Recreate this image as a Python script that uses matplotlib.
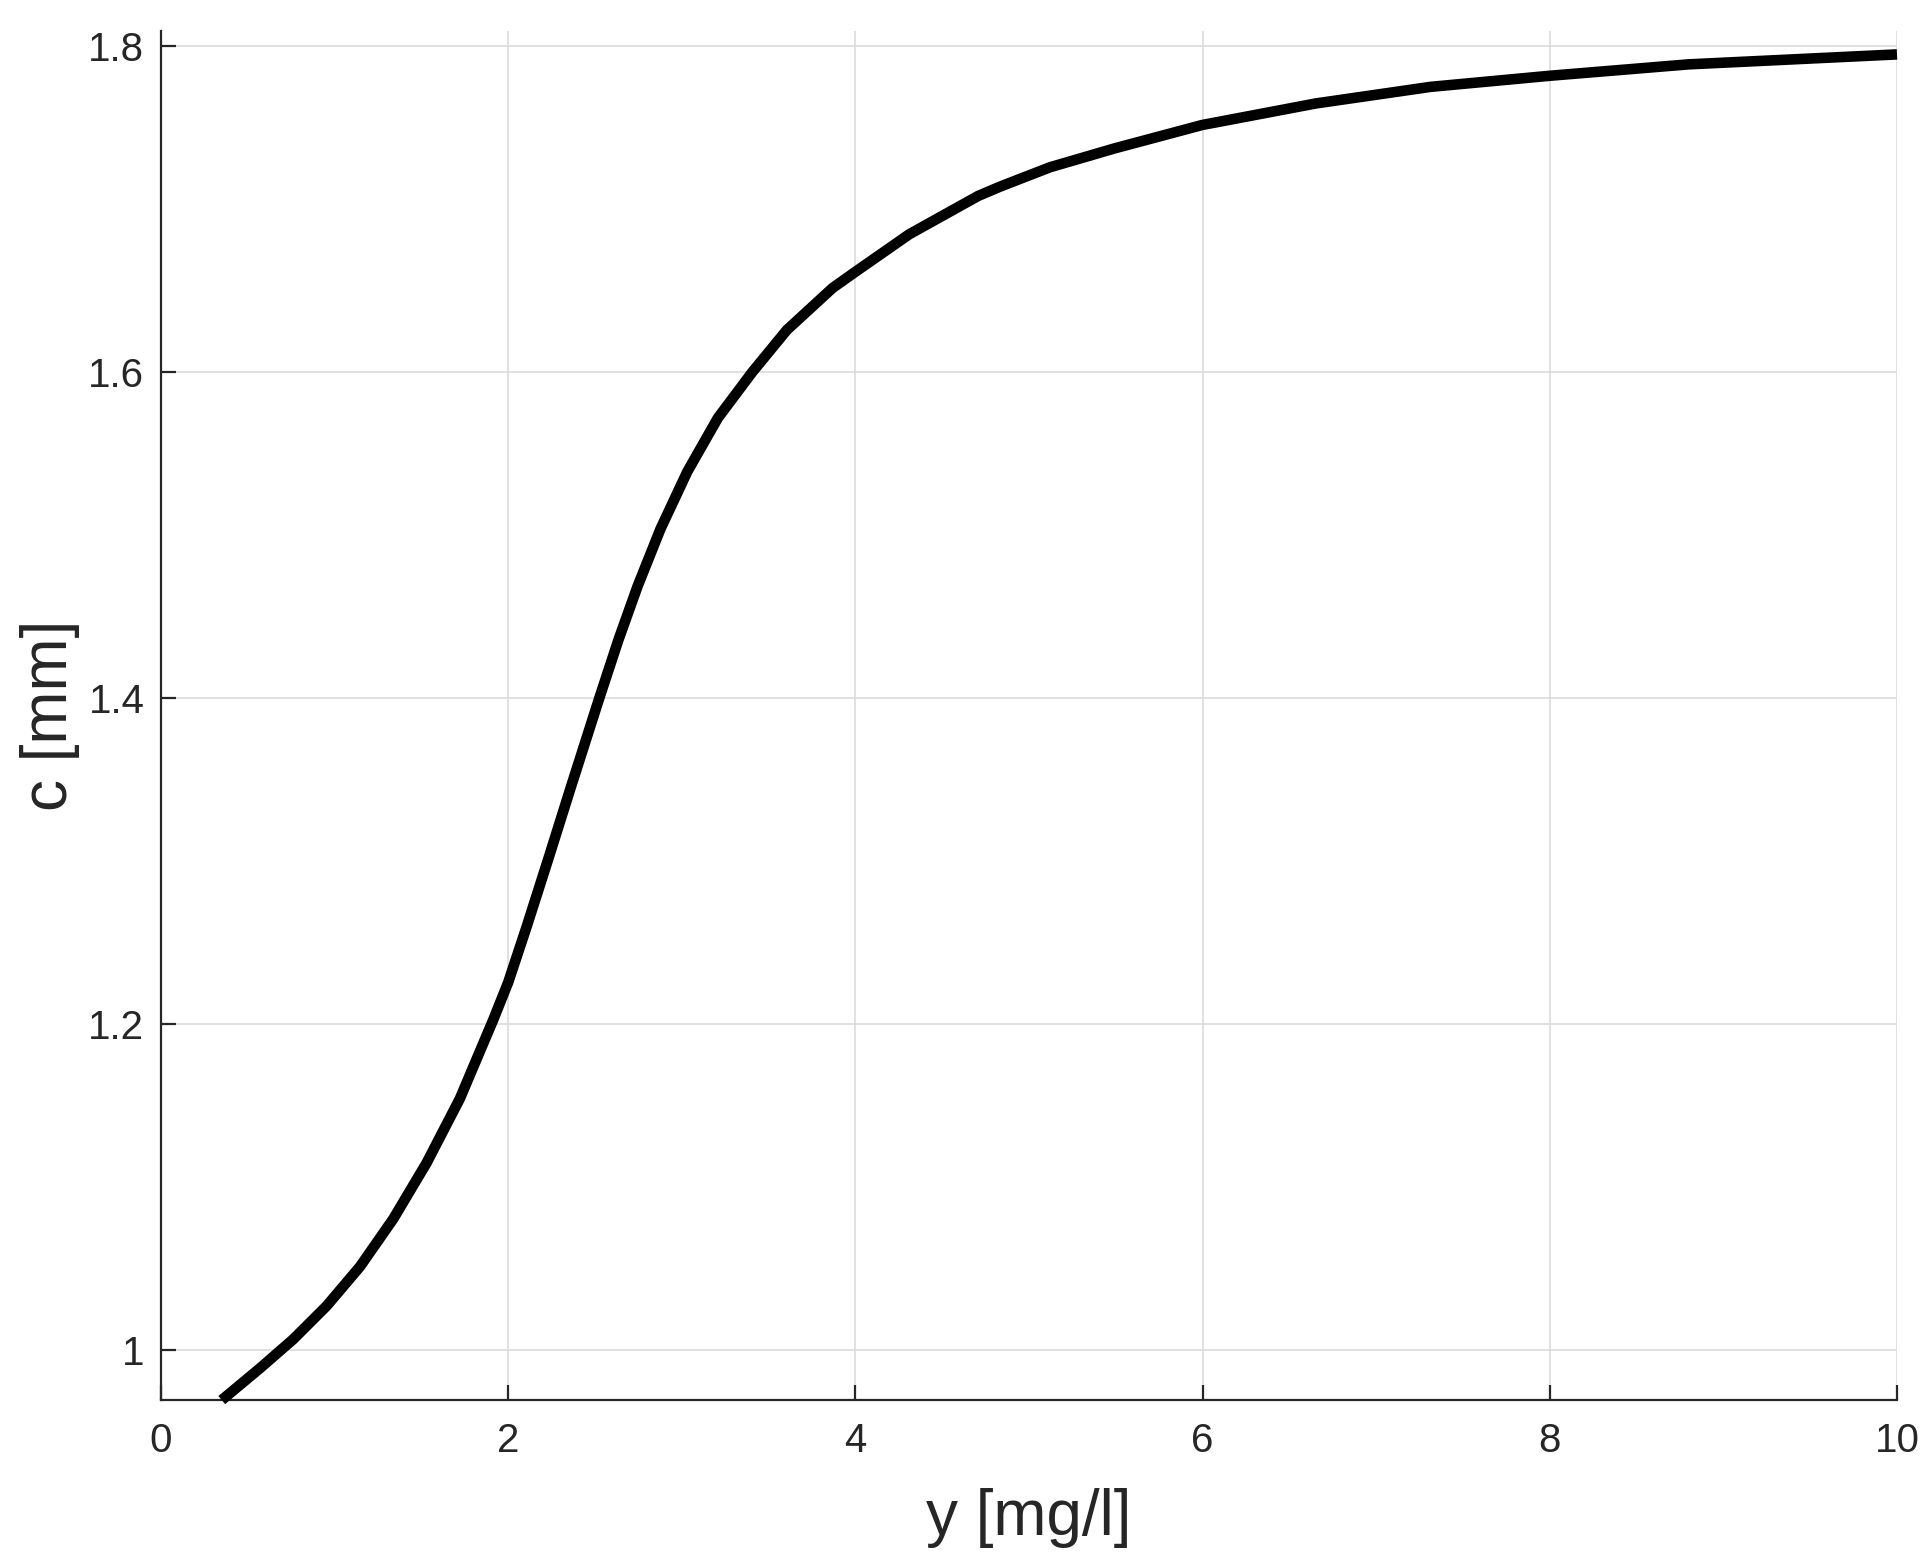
import matplotlib
matplotlib.use("Agg")
import matplotlib.pyplot as plt

# Data
y_conc = [0.35, 0.570, 0.762, 0.954, 1.146, 1.338, 1.530, 1.722, 1.914, 2.0,
          2.107, 2.23, 2.36, 2.441, 2.525, 2.635, 2.745, 2.877, 3.032, 3.208,
          3.406, 3.605, 3.869, 4.0, 4.31, 4.707, 4.833, 5.121, 5.494, 5.997,
          6.651, 7.313, 8.0, 8.80, 10.0]
c_mm = [0.9695, 0.989, 1.0068, 1.0272, 1.0513, 1.0806, 1.1149, 1.1544, 1.2027, 1.2256,
        1.260, 1.301, 1.345, 1.372, 1.400, 1.4356, 1.4684, 1.5036, 1.5388, 1.5717,
        1.5998, 1.6256, 1.6514, 1.6613, 1.6843, 1.7078, 1.7135, 1.7254, 1.737, 1.7513,
        1.7645, 1.7747, 1.7815, 1.7885, 1.7946]

x_ticks = [0, 2, 4, 6, 8, 10]
x_tick_labels = ["0", "2", "4", "6", "8", "10"]
y_ticks = [1.0, 1.2, 1.4, 1.6, 1.8]
y_tick_labels = ["1", "1.2", "1.4", "1.6", "1.8"]

plt.rcParams['font.family'] = ['Liberation Sans', 'DejaVu Sans']
txt = '#262626'

fig = plt.figure(figsize=(9.66, 7.84), dpi=200)
ax = fig.add_axes([161/1932, 168/1568, (1897-161)/1932, (1400-31)/1568])

ax.plot(y_conc, c_mm, color='black', lw=3.8, solid_capstyle='butt',
        solid_joinstyle='round', clip_on=False, zorder=3)

ax.set_xlim(0, 10)
ax.set_ylim(0.96953, 1.80895)
ax.set_xticks(x_ticks)
ax.set_xticklabels(x_tick_labels)
ax.set_yticks(y_ticks)
ax.set_yticklabels(y_tick_labels)

ax.grid(True, color='#dcdcdc', lw=0.6)
ax.set_axisbelow(True)
for s in ['top', 'right']:
    ax.spines[s].set_visible(False)
for s in ['left', 'bottom']:
    ax.spines[s].set_color(txt)
    ax.spines[s].set_linewidth(0.8)

ax.tick_params(direction='in', length=5.4, width=0.8, colors=txt,
               labelsize=14.5, pad=6)
ax.tick_params(axis='x', pad=8)

ax.set_xlabel('y [mg/l]', fontsize=23, color=txt, labelpad=10)
ax.set_ylabel('c [mm]', fontsize=23, color=txt, labelpad=3)

fig.savefig('out.png', dpi=200, facecolor='white')
